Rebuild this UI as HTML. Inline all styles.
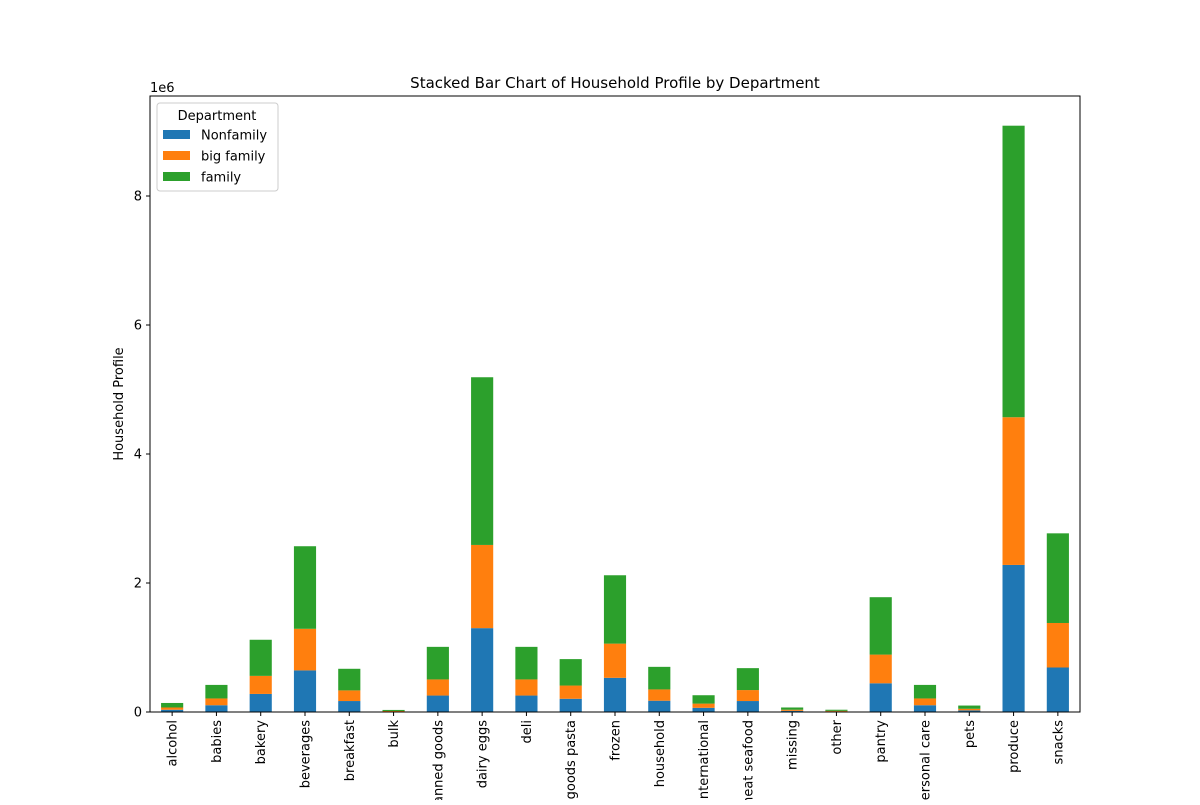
<!DOCTYPE html>
<html><head><meta charset="utf-8"><style>
body{margin:0;background:#fff;width:1200px;height:800px;overflow:hidden}
svg{font-family:"DejaVu Sans","Liberation Sans",sans-serif}
</style></head><body>
<svg id="chart" width="1200" height="800"></svg>
<script>
const categories=["alcohol","babies","bakery","beverages","breakfast","bulk","canned goods","dairy eggs","deli","dry goods pasta","frozen","household","international","meat seafood","missing","other","pantry","personal care","pets","produce","snacks"];
const nonfamily=[0.035,0.105,0.28,0.645,0.17,0.008,0.255,1.30,0.255,0.205,0.53,0.175,0.065,0.17,0.018,0.009,0.445,0.105,0.025,2.28,0.69];
const bigFamily=[0.035,0.105,0.28,0.645,0.165,0.008,0.25,1.29,0.25,0.205,0.53,0.175,0.065,0.17,0.017,0.009,0.445,0.105,0.025,2.29,0.69];
const family=[0.07,0.21,0.56,1.28,0.335,0.016,0.505,2.60,0.505,0.41,1.06,0.35,0.13,0.34,0.035,0.017,0.89,0.21,0.05,4.52,1.39];
const yTicks=[0,2,4,6,8];
const series=[{name:"Nonfamily",vals:nonfamily,color:"#1f77b4"},{name:"big family",vals:bigFamily,color:"#ff7f0e"},{name:"family",vals:family,color:"#2ca02c"}];
const L=150,R=1080,T=96,B=712,svg=document.getElementById('chart'),NS="http://www.w3.org/2000/svg";
const y=v=>B-v*64.5;
const step=(R-L)/categories.length;
const x=i=>L+step*(i+0.5);
function mk(t,a,txt){const e=document.createElementNS(NS,t);for(const k in a)e.setAttribute(k,a[k]);if(txt!==undefined)e.textContent=txt;svg.appendChild(e);return e;}
categories.forEach((c,i)=>{let base=0;series.forEach(s=>{const v=s.vals[i];
const r=mk('rect',{x:x(i)-step/4,y:y(base+v),width:step/2,height:y(base)-y(base+v),fill:s.color});

base+=v;});
mk('line',{x1:x(i),x2:x(i),y1:B,y2:B+4,stroke:'#000'});
const t=mk('text',{x:0,y:0,'font-size':13,'text-anchor':'end',transform:`translate(${x(i)+4.5},${B+8}) rotate(-90)`},c);

});
yTicks.forEach(v=>{mk('line',{x1:L-4,x2:L,y1:y(v),y2:y(v),stroke:'#000'});
const t=mk('text',{x:L-8,y:y(v)+4.5,'font-size':13,'text-anchor':'end'},v);

});
const fr=mk('rect',{x:L,y:T,width:R-L,height:B-T,fill:'none',stroke:'#000','stroke-width':1});

const ti=mk('text',{x:615,y:88,'font-size':15,'text-anchor':'middle'},'Stacked Bar Chart of Household Profile by Department');

const off=mk('text',{x:150,y:92,'font-size':13},'1e6');

const yl=mk('text',{x:0,y:0,'font-size':13,'text-anchor':'middle',transform:'translate(123,404) rotate(-90)'},'Household Profile');

const lg=mk('rect',{x:157,y:103,width:121,height:88,rx:3,fill:'#fff',stroke:'#ccc'});

const lt=mk('text',{x:217,y:120,'font-size':13,'text-anchor':'middle'},'Department');

series.forEach((s,k)=>{const yy=135+k*21;
const sw=mk('rect',{x:163,y:yy-5,width:27,height:9,fill:s.color});

const tx=mk('text',{x:201,y:yy+4.5,'font-size':13},s.name);
});
</script>
</body></html>
